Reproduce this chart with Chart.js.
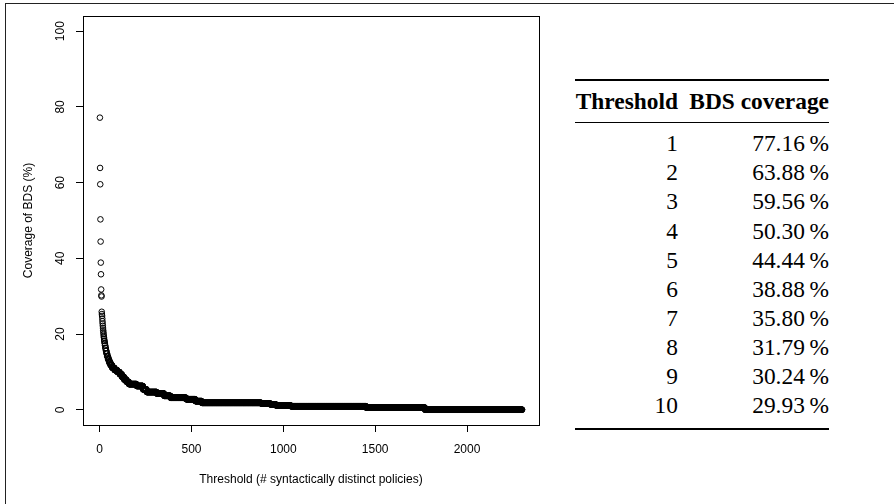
<!DOCTYPE html>
<html>
<head>
<meta charset="utf-8">
<script src="https://cdn.jsdelivr.net/npm/chart.js@4/dist/chart.umd.min.js"></script>
<style>
    body {
        margin: 0;
        width: 894px;
        height: 504px;
        position: relative;
        overflow: hidden;
        background: #fff;
    }
    .frame-top { position: absolute; left: 5px; top: 3px; width: 889px; height: 1px; background: #222; }
    .frame-left { position: absolute; left: 5px; top: 3px; width: 1px; height: 501px; background: #222; }
    #chart { position: absolute; left: 0; top: 0; }
    .rule { position: absolute; left: 575px; width: 254px; background: #000; }
    .row {
        position: absolute;
        left: 575px;
        height: 29px;
        line-height: 29px;
        font-family: "Liberation Serif", "Times New Roman", serif;
        font-size: 23.4px;
        color: #000;
        white-space: nowrap;
    }
    .row span { position: absolute; top: 0; text-align: right; }
    .row .c1 { left: 0; width: 103px; }
    .row .c2 { left: 103px; width: 151px; }
    .row.head { font-weight: bold; }
</style>
</head>
<body>
<div class="frame-top"></div>
<div class="frame-left"></div>
<canvas id="chart" width="560" height="504"></canvas>
<div id="table"></div>

<script>
// first ten thresholds, also listed in the table
const tableThreshold = [1, 2, 3, 4, 5, 6, 7, 8, 9, 10];
const tableCoverage = [77.16, 63.88, 59.56, 50.30, 44.44, 38.88, 35.80, 31.79, 30.24, 29.93];

// remaining thresholds, as runs of equal coverage
const runStart = [11, 12, 13, 14, 15, 16, 17, 18, 19, 20, 21, 22, 23, 24, 25, 27, 29, 31, 34, 37,
    41, 46, 52, 59, 68, 81, 96, 109, 121, 133, 146, 159, 201, 236, 256, 311, 351, 386, 471, 521,
    556, 881, 931, 961, 1041, 1451, 1771];
const runEnd = [11, 12, 13, 14, 15, 16, 17, 18, 19, 20, 21, 22, 23, 24, 26, 28, 30, 33, 36, 40,
    45, 51, 58, 67, 80, 95, 108, 120, 132, 145, 158, 200, 235, 255, 310, 350, 385, 470, 520, 555,
    880, 930, 960, 1040, 1450, 1770, 2300];
const runValue = [25.9, 25.3, 24.8, 24.1, 23.4, 22.8, 22.2, 21.6, 21.0, 20.5, 20.0, 19.5, 19.1, 18.7, 18.2, 17.6, 17.0, 16.3, 15.6, 14.9,
    14.1, 13.3, 12.5, 11.8, 11.1, 10.5, 10.0, 9.4, 8.7, 8.0, 7.4, 6.8, 6.3, 5.4, 4.7, 4.3, 3.7, 3.2, 2.8, 2.3,
    1.85, 1.65, 1.4, 1.15, 0.95, 0.6, 0.05];

const xTicks = [0, 500, 1000, 1500, 2000];
const yTicks = [0, 20, 40, 60, 80, 100];
const yLimits = [0, 100];

// one point per threshold
const points = tableThreshold.map((t, i) => ({ x: t, y: tableCoverage[i] }));
runStart.forEach((start, i) => {
    for (let t = start; t <= runEnd[i]; t++) {
        points.push({ x: t, y: runValue[i] });
    }
});

// R-style 4% padding around the data range
const xLo = points[0].x;
const xHi = points[points.length - 1].x;
const xPad = (xHi - xLo) * 0.04;
const yPad = (yLimits[1] - yLimits[0]) * 0.04;

const font = { family: "'Liberation Sans', Arial, Helvetica, sans-serif", size: 12 };

// full box around the plotting region
const plotBox = {
    id: "plotBox",
    afterDatasetsDraw(chart) {
        const { ctx, chartArea: a } = chart;
        ctx.save();
        ctx.strokeStyle = "#000";
        ctx.lineWidth = 1;
        ctx.strokeRect(Math.round(a.left) + 0.5, Math.round(a.top) + 0.5,
            Math.round(a.right - a.left), Math.round(a.bottom - a.top));
        ctx.restore();
    },
};

new Chart(document.getElementById("chart"), {
    type: "scatter",
    data: {
        datasets: [
            {
                data: points,
                pointRadius: 2.8,
                pointBorderWidth: 1,
                pointBorderColor: "#000",
                pointBackgroundColor: "rgba(0,0,0,0)",
                pointHoverRadius: 2.8,
            },
        ],
    },
    options: {
        responsive: false,
        animation: false,
        events: [],
        layout: { padding: { left: 8, top: 16, right: 21, bottom: 17 } },
        plugins: { legend: { display: false }, tooltip: { enabled: false } },
        scales: {
            x: {
                type: "linear",
                min: xLo - xPad,
                max: xHi + xPad,
                afterBuildTicks: (s) => { s.ticks = xTicks.map((v) => ({ value: v })); },
                afterFit: (s) => { s.height = 62; },
                border: { display: false },
                grid: { drawOnChartArea: false, drawTicks: true, tickLength: 7, color: "#000" },
                ticks: { color: "#000", font, padding: 10, maxRotation: 0, autoSkip: false, callback: (v) => String(v) },
                title: { display: true, text: "Threshold (# syntactically distinct policies)", color: "#000", font, padding: { top: 0, bottom: 0 } },
            },
            y: {
                type: "linear",
                min: yLimits[0] - yPad,
                max: yLimits[1] + yPad,
                afterBuildTicks: (s) => { s.ticks = yTicks.map((v) => ({ value: v })); },
                afterFit: (s) => { s.width = 75; },
                border: { display: false },
                grid: { drawOnChartArea: false, drawTicks: true, tickLength: 7, color: "#000" },
                ticks: { color: "#000", font, padding: 5, minRotation: 90, maxRotation: 90, crossAlign: "center", autoSkip: false, callback: (v) => String(v) },
                title: { display: true, text: "Coverage of BDS (%)", color: "#000", font, padding: { top: 13, bottom: 0 } },
            },
        },
    },
    plugins: [plotBox],
});

// table of the first ten thresholds
const table = document.getElementById("table");

const addRule = (top, height) => {
    const r = document.createElement("div");
    r.className = "rule";
    r.style.top = top + "px";
    r.style.height = height + "px";
    table.appendChild(r);
};

const addRow = (top, a, b, head) => {
    const row = document.createElement("div");
    row.className = head ? "row head" : "row";
    row.style.top = top + "px";
    const c1 = document.createElement("span");
    c1.className = "c1";
    c1.textContent = a;
    const c2 = document.createElement("span");
    c2.className = "c2";
    c2.textContent = b;
    row.appendChild(c1);
    row.appendChild(c2);
    table.appendChild(row);
};

addRule(79, 2);
addRow(86.6, "Threshold", "BDS coverage", true);
addRule(122, 1);
tableThreshold.forEach((t, i) => {
    addRow(129.3 + i * 29.07, String(t), tableCoverage[i].toFixed(2) + "\u2009%", false);
});
addRule(428, 2);
</script>
</body>
</html>
